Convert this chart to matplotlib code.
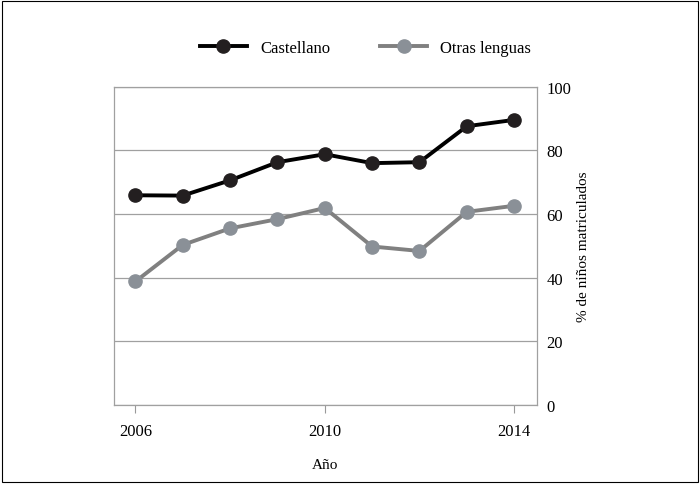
import matplotlib
matplotlib.use("Agg")
from matplotlib import pyplot as plt
from matplotlib.patches import Rectangle

plt.rcParams['font.family'] = ['Liberation Serif', 'DejaVu Serif']

years = [2006, 2007, 2008, 2009, 2010, 2011, 2012, 2013, 2014]
castellano = [65.9, 65.8, 70.6, 76.3, 78.8, 76.0, 76.3, 87.6, 89.6]
otras = [38.8, 50.3, 55.5, 58.4, 61.9, 49.8, 48.4, 60.7, 62.6]

fig = plt.figure(figsize=(7, 4.85), dpi=100)
ax = fig.add_axes([0.163, 0.163, 0.604, 0.656])

# marco exterior
fig.patches.append(Rectangle((0.003, 0.004), 0.994, 0.992, transform=fig.transFigure,
                             fill=False, edgecolor='black', linewidth=0.8))

ax.plot(years, castellano, color='black', linewidth=2.8, marker='o', markersize=9.5,
        markerfacecolor='#231f20', markeredgecolor='#231f20', label='Castellano')
ax.plot(years, otras, color='#808080', linewidth=2.8, marker='o', markersize=9.5,
        markerfacecolor='#8a9097', markeredgecolor='#8a9097', label='Otras lenguas')

ax.set_xlim(2005.55, 2014.48)
ax.set_ylim(0, 100)
ax.set_xticks([2006, 2010, 2014])
ax.set_yticks([0, 20, 40, 60, 80, 100])

ax.yaxis.tick_right()
ax.yaxis.set_label_position('right')
ax.tick_params(axis='y', length=0, pad=7, labelsize=12)
ax.tick_params(axis='x', length=6, width=0.8, color='#999999', pad=7, labelsize=12)
ax.grid(axis='y', color='#a0a0a0', linewidth=0.9)
ax.set_axisbelow(True)
for s in ax.spines.values():
    s.set_color('#a0a0a0')
    s.set_linewidth(0.9)

ax.set_xlabel('Año', fontsize=11, labelpad=14)
ax.set_ylabel('% de niños matriculados', fontsize=11, labelpad=4)

ax.legend(loc='lower center', bbox_to_anchor=(0.595, 1.05), ncol=2, frameon=False,
          fontsize=12, handlelength=2.8, columnspacing=3.0)

fig.savefig('out.png', dpi=100)
